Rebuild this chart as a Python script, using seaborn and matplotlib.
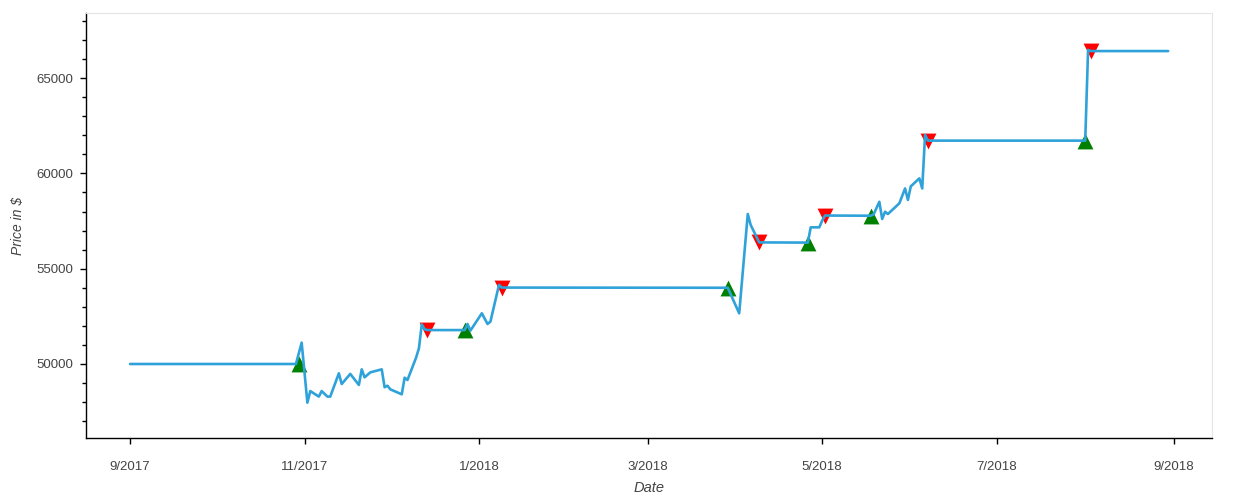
import matplotlib
matplotlib.use("Agg")
import seaborn as sns
import matplotlib.pyplot as plt
import matplotlib.dates as mdates
from matplotlib.ticker import MultipleLocator, FuncFormatter
import pandas as pd

# Valor da carteira (vértices)
datas = [
    "2017-09-01", "2017-10-29", "2017-10-31", "2017-11-02", "2017-11-03",
    "2017-11-06", "2017-11-07", "2017-11-09", "2017-11-10", "2017-11-13",
    "2017-11-14", "2017-11-17", "2017-11-20", "2017-11-21", "2017-11-22",
    "2017-11-24", "2017-11-28", "2017-11-29", "2017-11-30", "2017-12-01",
    "2017-12-05", "2017-12-06", "2017-12-07", "2017-12-10", "2017-12-11",
    "2017-12-12", "2017-12-13", "2017-12-14", "2017-12-27", "2017-12-28",
    "2017-12-29", "2018-01-02", "2018-01-04", "2018-01-05", "2018-01-08",
    "2018-01-09", "2018-03-29", "2018-04-02", "2018-04-05", "2018-04-06",
    "2018-04-09", "2018-04-26", "2018-04-27", "2018-04-30", "2018-05-01",
    "2018-05-02", "2018-05-18", "2018-05-19", "2018-05-21", "2018-05-22",
    "2018-05-23", "2018-05-24", "2018-05-28", "2018-05-30", "2018-05-31",
    "2018-06-01", "2018-06-04", "2018-06-05", "2018-06-06", "2018-06-07",
    "2018-08-01", "2018-08-02", "2018-08-03", "2018-08-30",
]
valores = [
    50000, 50000, 51120, 47970, 48580,
    48290, 48580, 48290, 48290, 49510,
    48950, 49480, 48900, 49720, 49300,
    49560, 49720, 48780, 48860, 48670,
    48410, 49280, 49160, 50330, 50820,
    52080, 51820, 51780, 51780, 52100,
    51750, 52660, 52100, 52220, 54150,
    54010, 54000, 52660, 57870, 57300,
    56380, 56370, 57170, 57170, 57520,
    57790, 57780, 57850, 58510, 57610,
    57990, 57870, 58430, 59210, 58610,
    59320, 59740, 59210, 62020, 61720,
    61720, 66480, 66420, 66420,
]

# Compras e vendas
datas_compra = ["2017-10-30", "2017-12-27", "2018-03-29", "2018-04-26", "2018-05-18", "2018-08-01"]
valores_compra = [50000, 51780, 54000, 56370, 57780, 61720]
datas_venda = ["2017-12-14", "2018-01-09", "2018-04-09", "2018-05-02", "2018-06-07", "2018-08-03"]
valores_venda = [51780, 54010, 56380, 57790, 61720, 66420]

carteira = pd.DataFrame({"Date": pd.to_datetime(datas), "Price": valores})
compras = pd.DataFrame({"Date": pd.to_datetime(datas_compra), "Price": valores_compra})
vendas = pd.DataFrame({"Date": pd.to_datetime(datas_venda), "Price": valores_venda})

sns.set_style("ticks")
plt.rcParams['font.family'] = ['Liberation Sans', 'DejaVu Sans']

fig = plt.figure(figsize=(12.5, 5), dpi=100)
ax = fig.add_axes([0.0688, 0.124, 0.9008, 0.85])

sns.scatterplot(data=compras, x="Date", y="Price", marker="^", s=130,
                color="#008000", linewidth=0, ax=ax, zorder=2)
sns.scatterplot(data=vendas, x="Date", y="Price", marker="v", s=130,
                color="#ff0000", linewidth=0, ax=ax, zorder=2)
sns.lineplot(data=carteira, x="Date", y="Price", color="#30a2da",
             linewidth=1.9, ax=ax, zorder=3)

ax.set_xlim(pd.Timestamp("2017-08-16 14:00"), pd.Timestamp("2018-09-14 08:00"))
ax.set_ylim(46117, 68417)

ax.xaxis.set_major_locator(mdates.MonthLocator(bymonth=[1, 3, 5, 7, 9, 11]))
ax.xaxis.set_major_formatter(FuncFormatter(
    lambda v, p: f"{mdates.num2date(v).month}/{mdates.num2date(v).year}"))
ax.yaxis.set_major_locator(MultipleLocator(5000))
ax.yaxis.set_minor_locator(MultipleLocator(1000))
ax.yaxis.set_major_formatter(FuncFormatter(lambda v, p: f"{int(v)}"))

ax.tick_params(axis="both", which="major", length=4.3, width=1, color="black",
               labelsize=9.5, labelcolor="#444444")
ax.tick_params(axis="x", pad=12)
ax.tick_params(axis="y", pad=5)
ax.tick_params(axis="y", which="minor", length=2.9, width=1, color="black")

for lado in ["top", "right"]:
    ax.spines[lado].set_visible(True)
    ax.spines[lado].set_color("#e5e5e5")
for lado in ["left", "bottom"]:
    ax.spines[lado].set_color("black")
    ax.spines[lado].set_linewidth(1)

ax.set_xlabel("Date", fontsize=10.5, style="italic", color="#444444", labelpad=6)
ax.set_ylabel("Price in $", fontsize=10, style="italic", color="#444444", labelpad=8)

fig.savefig("out.png", dpi=100)
